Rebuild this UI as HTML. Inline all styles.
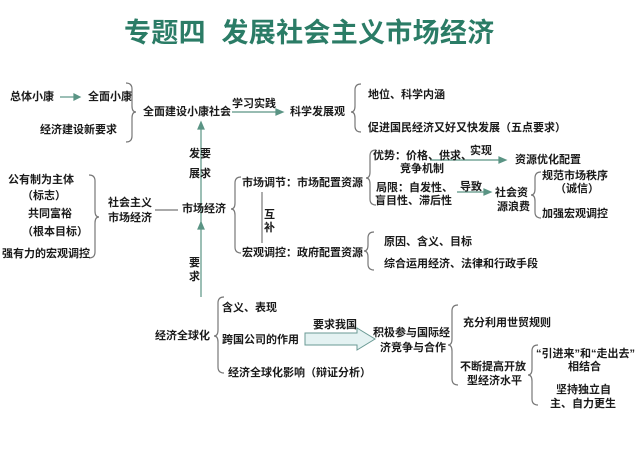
<!DOCTYPE html>
<html><head><meta charset="utf-8"><style>
body{margin:0;width:640px;height:453px;background:#fff;position:relative;overflow:hidden;font-family:"Liberation Sans","Noto Sans CJK SC",sans-serif}
.t{position:absolute;font-size:11px;line-height:12px;font-weight:bold;color:#1a1a1a;white-space:nowrap}
h1{position:absolute;left:124px;top:16px;margin:0;font-size:27px;line-height:34px;letter-spacing:0.3px;color:#2b7c66;font-weight:bold;white-space:nowrap;font-family:"Liberation Sans","Noto Sans CJK SC",sans-serif}
svg{position:absolute;left:0;top:0}
</style></head><body>
<h1>专题四&nbsp;&nbsp;发展社会主义市场经济</h1>
<svg width="640" height="453" fill="none" stroke-width="1.2">
<g stroke="#777">
<path d="M126 83 Q132 83 132 89 L132 106 Q132 112 136 112 Q132 112 132 118 L132 136 Q132 142 126 142"/>
<path d="M89 175 Q95 175 95 181 L95 211 Q95 217 99 217 Q95 217 95 223 L95 252 Q95 258 89 258"/>
<path d="M361 84 Q355 84 355 90 L355 106 Q355 112 351 112 Q355 112 355 118 L355 126 Q355 132 361 132"/>
<path d="M241 177 Q235 177 235 183 L235 203 Q235 209 231 209 Q235 209 235 215 L235 247 Q235 253 241 253"/>
<path d="M376 150 Q370 150 370 156 L370 172 Q370 178 366 178 Q370 178 370 184 L370 199 Q370 205 376 205"/>
<path d="M541 172 Q535 172 535 178 L535 189 Q535 195 531 195 Q535 195 535 201 L535 212 Q535 218 541 218"/>
<path d="M374 232 Q368 232 368 238 L368 245 Q368 251 364 251 Q368 251 368 257 L368 264 Q368 270 374 270"/>
<path d="M224 297 Q218 297 218 303 L218 330 Q218 336 214 336 Q218 336 218 342 L218 367 Q218 373 224 373"/>
<path d="M458 305 Q452 305 452 311 L452 339 Q452 345 448 345 Q452 345 452 351 L452 379 Q452 385 458 385"/>
<path d="M538 345 Q532 345 532 351 L532 369 Q532 375 528 375 Q532 375 532 381 L532 399 Q532 405 538 405"/>
<line x1="155" y1="210" x2="178" y2="210"/>
<line x1="262" y1="192" x2="262" y2="243"/>
</g>
<g stroke="#5a9484" fill="#5a9484">
<line x1="60" y1="97" x2="76" y2="97"/><path d="M80 97 L74 94 L74 100Z"/>
<line x1="232" y1="112" x2="278" y2="112"/><path d="M283 112 L276 109 L276 115Z"/>
<line x1="201" y1="225" x2="201" y2="128"/><path d="M201 122 L198 129 L204 129Z"/>
<line x1="201" y1="297" x2="201" y2="228"/><path d="M201 222 L198 229 L204 229Z"/>
<line x1="430" y1="160" x2="500" y2="160"/><path d="M506 160 L499 157 L499 163Z"/>
<line x1="457" y1="192" x2="485" y2="192"/><path d="M491 192 L484 189 L484 195Z"/>
</g>
<path d="M305 333 L357 333 L357 328 L375 339 L357 350 L357 345 L305 345Z" fill="#e4f2f2" stroke="#6a9a94" stroke-width="1"/>
</svg>
<div class="t" style="left:10px;top:91px">总体小康</div>
<div class="t" style="left:88px;top:91px">全面小康</div>
<div class="t" style="left:40px;top:124px">经济建设新要求</div>
<div class="t" style="left:143px;top:106px">全面建设小康社会</div>
<div class="t" style="left:232px;top:98px">学习实践</div>
<div class="t" style="left:290px;top:106px">科学发展观</div>
<div class="t" style="left:368px;top:89px">地位、科学内涵</div>
<div class="t" style="left:368px;top:122px">促进国民经济又好又快发展（五点要求）</div>
<div class="t" style="left:189px;top:148px">发要</div>
<div class="t" style="left:189px;top:168px">展求</div>
<div class="t" style="left:182px;top:203px">市场经济</div>
<div class="t" style="left:8px;top:174px">公有制为主体</div>
<div class="t" style="left:22px;top:190px">（标志）</div>
<div class="t" style="left:28px;top:208px">共同富裕</div>
<div class="t" style="left:22px;top:226px">（根本目标）</div>
<div class="t" style="left:2px;top:248px">强有力的宏观调控</div>
<div class="t" style="left:108px;top:197px">社会主义</div>
<div class="t" style="left:108px;top:212px">市场经济</div>
<div class="t" style="left:242px;top:177px">市场调节：市场配置资源</div>
<div class="t" style="left:242px;top:247px">宏观调控：政府配置资源</div>
<div class="t" style="left:264px;top:209px">互</div>
<div class="t" style="left:264px;top:222px">补</div>
<div class="t" style="left:373px;top:150px">优势：价格、供求、</div>
<div class="t" style="left:400px;top:163px">竞争机制</div>
<div class="t" style="left:470px;top:145px">实现</div>
<div class="t" style="left:515px;top:154px">资源优化配置</div>
<div class="t" style="left:376px;top:182px">局限：自发性、</div>
<div class="t" style="left:375px;top:195px">盲目性、滞后性</div>
<div class="t" style="left:460px;top:181px">导致</div>
<div class="t" style="left:495px;top:187px">社会资</div>
<div class="t" style="left:497px;top:201px">源浪费</div>
<div class="t" style="left:542px;top:170px">规范市场秩序</div>
<div class="t" style="left:555px;top:183px">（诚信）</div>
<div class="t" style="left:542px;top:208px">加强宏观调控</div>
<div class="t" style="left:384px;top:236px">原因、含义、目标</div>
<div class="t" style="left:384px;top:258px">综合运用经济、法律和行政手段</div>
<div class="t" style="left:189px;top:257px">要</div>
<div class="t" style="left:189px;top:271px">求</div>
<div class="t" style="left:155px;top:330px">经济全球化</div>
<div class="t" style="left:222px;top:302px">含义、表现</div>
<div class="t" style="left:222px;top:334px">跨国公司的作用</div>
<div class="t" style="left:228px;top:367px">经济全球化影响（辩证分析）</div>
<div class="t" style="left:313px;top:319px">要求我国</div>
<div class="t" style="left:373px;top:327px">积极参与国际经</div>
<div class="t" style="left:380px;top:342px">济竞争与合作</div>
<div class="t" style="left:463px;top:317px">充分利用世贸规则</div>
<div class="t" style="left:460px;top:361px">不断提高开放</div>
<div class="t" style="left:467px;top:375px">型经济水平</div>
<div class="t" style="left:536px;top:348px">“引进来”和“走出去”</div>
<div class="t" style="left:568px;top:361px">相结合</div>
<div class="t" style="left:556px;top:384px">坚持独立自</div>
<div class="t" style="left:550px;top:398px">主、自力更生</div>
</body></html>
